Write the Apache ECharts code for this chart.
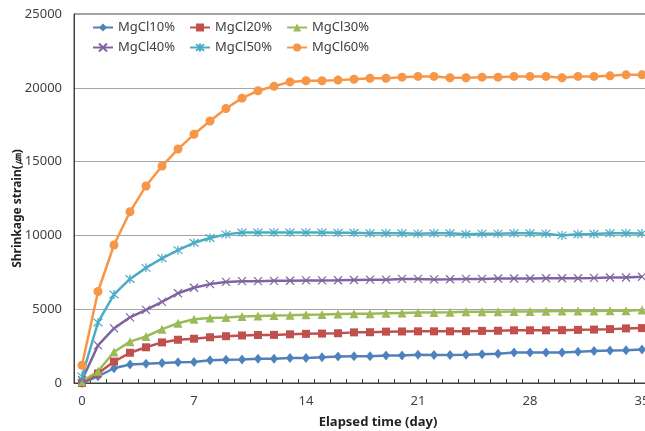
<!DOCTYPE html>
<html><head><meta charset="utf-8">
<script src="https://cdn.jsdelivr.net/npm/echarts@6/dist/echarts.min.js"></script>
<style>html,body{margin:0;padding:0;background:#fff}#c{width:645px;height:431px}</style>
</head><body><div id="c"></div>
<script>
const days = ['0','1','2','3','4','5','6','7','8','9','10','11','12','13','14','15','16','17','18','19','20','21','22','23','24','25','26','27','28','29','30','31','32','33','34','35'];
const mg10 = [0,450,1000,1250,1300,1350,1400,1420,1540,1580,1590,1650,1650,1700,1700,1740,1800,1810,1820,1860,1870,1920,1900,1900,1910,1950,1990,2060,2060,2060,2070,2110,2160,2200,2220,2270];
const mg20 = [0,650,1450,2050,2420,2750,2930,3000,3100,3170,3220,3250,3260,3300,3330,3350,3370,3430,3440,3480,3490,3500,3500,3500,3510,3530,3540,3570,3570,3570,3580,3600,3620,3650,3700,3720];
const mg30 = [100,800,2100,2800,3150,3650,4050,4320,4400,4440,4500,4540,4580,4590,4620,4640,4680,4700,4700,4730,4750,4770,4780,4790,4820,4830,4830,4840,4840,4860,4870,4870,4880,4890,4900,4950];
const mg40 = [200,2550,3700,4450,4950,5500,6080,6450,6700,6850,6900,6900,6920,6930,6950,6950,6960,6980,7000,7000,7050,7050,7020,7030,7050,7050,7080,7080,7080,7100,7100,7100,7120,7150,7150,7200];
const mg50 = [450,4100,6000,7050,7800,8450,9000,9500,9820,10070,10200,10200,10200,10200,10200,10200,10180,10180,10150,10150,10150,10120,10150,10150,10080,10120,10120,10150,10150,10120,10000,10080,10100,10150,10150,10130];
const mg60 = [1200,6200,9350,11600,13350,14700,15850,16850,17750,18600,19300,19800,20100,20400,20480,20480,20520,20580,20650,20650,20720,20770,20770,20680,20680,20720,20720,20770,20770,20770,20680,20770,20770,20810,20880,20880];
const yTicks = [0,5000,10000,15000,20000,25000];

const names = ['MgCl10%','MgCl20%','MgCl30%','MgCl40%','MgCl50%','MgCl60%'];
const colors = ['#4F81BD','#C0504D','#9BBB59','#8064A2','#4BACC6','#F79646'];
const symbols = ['diamond','rect','triangle','path://M0,0L10,10M10,0L0,10','path://M0,0L10,10M10,0L0,10M5,-1L5,11','circle'];
const sizes = [[8,10],8,9,8,9,9];
const values = [mg10,mg20,mg30,mg40,mg50,mg60];

const font = 'Noto Sans';
const chart = echarts.init(document.getElementById('c'), null, {renderer:'canvas'});
const series = names.map((n,i)=>({
  name:n, type:'line', data:values[i],
  symbol:symbols[i], symbolSize:sizes[i], showSymbol:true,
  lineStyle:{color:colors[i], width:2.5},
  itemStyle:{color:colors[i], borderColor:colors[i], borderWidth:(i===3||i===4)?1.2:0},
  emphasis:{disabled:true}, animation:false
}));
const legendBase = {left:87, itemWidth:20, itemHeight:10, itemGap:14,
  textStyle:{fontSize:13, color:'#404040', fontFamily:font}};
chart.setOption({
  animation:false,
  backgroundColor:'#fff',
  grid:{left:74, top:14, width:576, height:369, show:true, borderColor:'#404040', borderWidth:1, backgroundColor:'transparent', outerBoundsMode:'none', containLabel:false},
  legend:[
    Object.assign({}, legendBase, {top:16, data:names.slice(0,3)}),
    Object.assign({}, legendBase, {top:36, data:names.slice(3)})
  ],
  xAxis:{type:'category', data:days, boundaryGap:true,
    name:'Elapsed time (day)', nameLocation:'middle', nameGap:33,
    nameTextStyle:{fontSize:13, fontWeight:'bold', color:'#222', fontFamily:font, padding:[0,0,0,32]},
    axisLine:{lineStyle:{color:'#404040', width:1}},
    axisTick:{show:true, interval:0, inside:true, length:4, lineStyle:{color:'#404040'}},
    axisLabel:{interval:6, margin:12, fontSize:13, color:'#404040', fontFamily:font},
    splitLine:{show:false}
  },
  yAxis:{type:'value', min:yTicks[0], max:yTicks[yTicks.length-1], interval:yTicks[1]-yTicks[0],
    name:'Shrinkage strain(㎛)', nameLocation:'middle', nameGap:50, nameMoveOverlap:false,
    nameTextStyle:{fontSize:12, fontWeight:'bold', color:'#222', fontFamily:font, padding:[0,20,0,0]},
    axisLine:{show:true, lineStyle:{color:'#404040'}},
    axisTick:{show:false},
    axisLabel:{margin:12, fontSize:13, color:'#404040', fontFamily:font, formatter:v=>String(v)},
    splitLine:{lineStyle:{color:'#a6a6a6', width:1}}
  },
  series:series
});
</script></body></html>
